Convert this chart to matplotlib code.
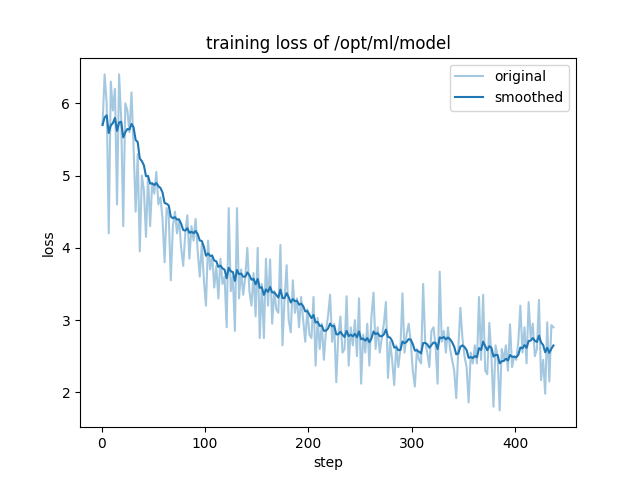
import matplotlib
matplotlib.use("Agg")
import matplotlib.pyplot as plt

steps = list(range(1, 438, 2))

# raw loss values, 10 per row (20 steps per row)
losses = [
    5.70, 6.40, 6.00, 4.20, 6.30, 5.90, 6.20, 4.60, 6.40, 5.80,
    4.30, 6.00, 5.90, 5.60, 6.15, 5.40, 4.50, 5.30, 3.95, 5.00,
    4.80, 4.15, 5.00, 4.30, 4.90, 4.75, 5.05, 4.60, 4.70, 4.40,
    3.80, 4.55, 4.45, 3.55, 4.30, 4.50, 4.20, 4.40, 4.00, 3.75,
    4.20, 4.45, 3.85, 4.30, 4.10, 4.40, 3.95, 3.60, 4.05, 3.55,
    3.20, 4.10, 3.70, 3.90, 3.45, 3.75, 3.30, 3.85, 3.50, 3.60,
    2.90, 4.55, 3.40, 3.60, 2.85, 4.55, 3.30, 3.70, 3.35, 3.60,
    4.00, 3.40, 3.20, 3.65, 3.05, 4.00, 2.75, 3.50, 2.75, 3.85,
    3.20, 3.84, 2.95, 3.40, 3.15, 3.10, 4.04, 2.65, 3.30, 3.76,
    3.00, 2.83, 3.55, 3.10, 3.30, 2.90, 3.32, 3.00, 2.70, 3.15,
    2.80, 2.75, 3.32, 2.37, 3.03, 2.60, 2.95, 2.45, 2.85, 3.05,
    3.35, 2.70, 2.95, 2.14, 2.80, 3.05, 2.55, 2.60, 3.33, 2.37,
    2.90, 2.65, 3.00, 2.50, 3.30, 2.12, 2.80, 2.55, 2.95, 2.37,
    3.05, 3.38, 2.60, 2.90, 2.55, 2.75, 2.95, 3.25, 2.20, 2.70,
    2.45, 2.10, 2.65, 2.35, 2.60, 3.37, 2.55, 2.80, 2.95, 2.70,
    2.30, 2.08, 2.60, 2.45, 2.40, 3.50, 2.70, 2.55, 2.35, 2.85,
    2.90, 2.65, 2.12, 3.67, 2.70, 2.85, 2.55, 2.90, 2.60, 2.45,
    2.30, 1.92, 2.60, 3.17, 2.75, 2.50, 2.35, 1.86, 2.55, 2.40,
    2.65, 2.40, 3.32, 2.45, 3.35, 2.30, 2.25, 2.96, 2.50, 1.80,
    2.65, 2.50, 1.75, 2.60, 2.45, 2.65, 2.30, 2.94, 2.35, 2.50,
    2.45, 2.70, 3.20, 2.55, 2.90, 2.40, 3.25, 2.75, 2.95, 2.50,
    2.60, 3.28, 2.17, 2.45, 1.98, 2.97, 2.15, 2.93, 2.90,
]


# exponential moving average, like the training logger does
def smooth(scalars, weight=0.85):
    last = scalars[0]
    out = []
    for v in scalars:
        last = last * weight + (1 - weight) * v
        out.append(last)
    return out


smoothed = smooth(losses)

plt.figure(figsize=(6.4, 4.8), dpi=100)
plt.plot(steps, losses, color="#1f77b4", alpha=0.4, label="original")
plt.plot(steps, smoothed, color="#1f77b4", label="smoothed")
plt.legend(loc="upper right")
plt.title("training loss of /opt/ml/model")
plt.xlabel("step")
plt.ylabel("loss")
plt.savefig("out.png", dpi=100)
